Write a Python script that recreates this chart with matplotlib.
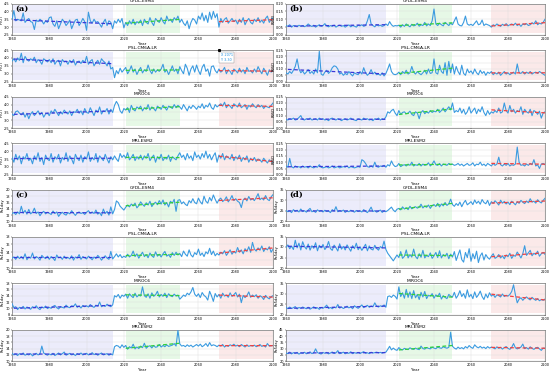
import numpy as np
import matplotlib
matplotlib.use("Agg")
import matplotlib.pyplot as plt

years = list(range(1960, 2101))
models = ["GFDL-ESM4", "IPSL-CM6A-LR", "MIROC6", "MRI-ESM2"]
group_labels = ["(a)", "(b)", "(c)", "(d)"]
index_names = ["PTOT", "R95D", "Rx1day", "Rx5day"]

# ---------------- (a) ----------------
a_gfdl = [3.5, 4.05, 3.4, 3.5, 3.45, 3.4, 3.9, 3.3, 3.45, 3.55,
          3.35, 3.3, 2.85, 3.45, 3.35, 3.5, 3.4, 3.2, 3.4, 3.3,
          3.6, 3.65, 3.2, 3.05, 3.4, 2.9, 3.2, 3.5, 3.35, 3.1,
          3.25, 3.45, 2.9, 3.2, 3.45, 3.5, 3.1, 3.3, 3.55, 3.35,
          2.8, 3.95, 3.4, 3.25, 3.5, 3.3, 3.35, 3.2, 3.0, 3.3,
          3.5, 3.1, 3.4, 3.3, 2.9, 3.4, 3.25, 3.5, 3.3, 3.55,
          2.95, 3.3, 3.1, 3.4, 3.2, 3.5, 3.15, 3.35, 3.25, 3.45,
          3.1, 3.5, 3.3, 3.2, 3.6, 3.3, 3.1, 3.55, 3.4, 3.3,
          3.6, 3.35, 3.2, 3.7, 3.4, 3.5, 3.3, 3.6, 3.45, 3.7,
          3.3, 3.5, 3.25, 3.1, 3.4, 2.9, 3.3, 3.55, 3.45, 3.2,
          3.7, 3.5, 3.9, 3.4, 3.75, 3.3, 3.95, 3.5, 4.0, 3.6,
          3.85, 3.0, 3.55, 3.3, 3.5, 3.6, 3.25, 3.4, 3.55, 3.35,
          3.45, 3.2, 3.5, 3.3, 3.6, 3.15, 3.4, 3.55, 3.3, 3.2,
          3.5, 3.35, 3.6, 3.3, 3.45, 3.25, 3.55, 3.7, 3.3, 3.5,
          3.6]
a_ipsl = [3.8, 3.95, 3.75, 4.0, 3.85, 4.3, 3.7, 4.1, 3.9, 3.8,
          3.95, 3.85, 4.05, 3.7, 3.9, 3.8, 3.6, 3.95, 3.85, 3.75,
          3.9, 3.7, 3.95, 3.6, 3.8, 3.85, 3.5, 3.9, 3.75, 3.8,
          3.6, 3.85, 3.7, 3.9, 3.55, 3.75, 3.8, 3.65, 3.85, 3.7,
          4.1, 3.6, 3.8, 3.9, 3.5, 3.7, 3.85, 3.6, 3.95, 3.8,
          3.7, 3.5, 3.8, 3.3, 3.4, 2.75, 3.2, 3.0, 3.35, 3.1,
          3.25, 3.4, 3.0, 3.2, 3.5, 3.1, 3.3, 2.95, 3.2, 3.4,
          3.05, 3.25, 3.15, 3.55, 3.2, 3.0, 3.3, 3.1, 3.25, 3.15,
          3.3, 3.6, 3.1, 3.25, 2.95, 3.2, 3.5, 3.15, 3.3, 3.0,
          3.45, 3.2, 3.0, 3.6, 3.35, 2.9, 3.3, 3.5, 3.1, 3.55,
          3.2, 2.95, 3.4, 3.6, 3.15, 3.3, 2.85, 3.45, 3.5, 3.2,
          3.05, 3.3, 3.1, 3.2, 3.4, 3.0, 3.25, 3.15, 2.95, 3.3,
          3.2, 3.05, 3.35, 3.1, 3.25, 3.0, 3.4, 3.15, 3.2, 3.05,
          3.3, 3.1, 3.45, 3.2, 3.0, 3.35, 3.15, 2.9, 3.25, 3.1,
          3.2]
a_miroc = [3.4, 3.3, 3.55, 3.6, 3.45, 3.35, 3.5, 3.2, 3.45, 3.1,
           3.4, 3.55, 3.3, 3.45, 3.6, 3.35, 3.5, 3.2, 3.4, 3.45,
           3.3, 3.6, 3.45, 3.7, 3.5, 3.3, 3.55, 3.4, 3.65, 3.5,
           3.4, 3.6, 3.3, 3.55, 3.5, 3.7, 3.45, 3.6, 3.35, 3.75,
           3.5, 3.45, 3.8, 3.55, 3.3, 3.65, 3.5, 3.85, 3.4, 3.6,
           3.55, 3.75, 3.4, 3.7, 3.5, 3.95, 4.2, 4.0, 3.6, 3.45,
           3.75, 3.65, 3.8, 3.5, 3.95, 3.7, 3.6, 3.85, 3.75, 3.9,
           3.6, 3.8, 3.7, 4.0, 3.65, 3.85, 3.75, 3.6, 3.9, 3.8,
           3.7, 3.95, 3.8, 3.65, 3.9, 3.85, 3.75, 4.0, 3.8, 3.95,
           3.85, 3.7, 4.0, 3.8, 3.6, 3.9, 3.75, 3.95, 3.85, 3.7,
           3.9, 3.8, 4.05, 3.75, 3.95, 3.85, 4.1, 3.8, 3.7, 4.0,
           3.85, 3.95, 4.05, 3.9, 4.15, 3.8, 4.0, 3.9, 3.75, 4.05,
           3.95, 3.85, 4.1, 3.8, 3.9, 4.0, 3.7, 3.95, 3.85, 4.05,
           3.9, 3.8, 4.0, 3.85, 3.95, 3.75, 3.9, 3.85, 3.8, 3.95,
           4.1]
a_mri = [3.6, 3.3, 3.8, 3.45, 3.7, 3.2, 3.65, 3.5, 3.85, 3.4,
         3.55, 3.2, 3.7, 3.45, 3.9, 3.35, 3.6, 3.15, 3.75, 3.5,
         3.4, 3.85, 3.3, 3.65, 3.5, 3.8, 3.25, 3.6, 3.45, 3.9,
         3.35, 3.7, 3.5, 3.2, 3.8, 3.55, 3.4, 3.75, 3.3, 3.65,
         3.5, 3.95, 3.35, 3.6, 3.45, 3.85, 3.3, 3.7, 3.55, 3.4,
         3.8, 3.5, 3.25, 3.65, 3.45, 3.7, 3.5, 3.35, 3.85, 3.6,
         3.75, 3.55, 3.9, 3.45, 3.6, 3.8, 3.4, 3.65, 3.5, 3.75,
         3.45, 3.7, 3.55, 3.85, 3.4, 3.6, 3.75, 3.3, 3.65, 3.5,
         3.8, 3.4, 3.6, 3.5, 3.75, 3.35, 3.65, 3.55, 3.45, 3.7,
         3.9, 3.6, 3.75, 3.45, 3.85, 3.55, 3.7, 3.4, 3.95, 3.6,
         3.75, 3.5, 3.85, 3.6, 4.0, 3.55, 3.8, 3.45, 3.7, 3.9,
         3.3, 3.75, 3.55, 3.85, 3.45, 3.7, 3.6, 3.5, 3.8, 3.4,
         3.65, 3.5, 3.75, 3.35, 3.6, 3.45, 3.7, 3.3, 3.55, 3.4,
         3.6, 3.35, 3.5, 3.45, 3.3, 3.55, 3.4, 3.25, 3.45, 3.35,
         3.3]

# ---------------- (b) ----------------
b_gfdl = [0.06, 0.055, 0.065, 0.05, 0.06, 0.058, 0.052, 0.062, 0.056, 0.06,
          0.053, 0.058, 0.07, 0.06, 0.054, 0.062, 0.05, 0.058, 0.065, 0.055,
          0.06, 0.072, 0.058, 0.052, 0.06, 0.055, 0.063, 0.05, 0.058, 0.062,
          0.055, 0.06, 0.05, 0.058, 0.064, 0.052, 0.06, 0.056, 0.05, 0.062,
          0.058, 0.065, 0.055, 0.06, 0.09, 0.13, 0.07, 0.06, 0.052, 0.065,
          0.058, 0.062, 0.055, 0.06, 0.07, 0.06, 0.085, 0.065, 0.055, 0.06,
          0.058, 0.062, 0.05, 0.065, 0.055, 0.07, 0.06, 0.052, 0.068, 0.058,
          0.062, 0.075, 0.056, 0.065, 0.06, 0.08, 0.058, 0.07, 0.06, 0.09,
          0.165, 0.07, 0.06, 0.075, 0.065, 0.058, 0.08, 0.07, 0.06, 0.075,
          0.065, 0.09, 0.115, 0.07, 0.06, 0.058, 0.08, 0.12, 0.07, 0.062,
          0.068, 0.06, 0.075, 0.09, 0.065, 0.07, 0.095, 0.06, 0.07, 0.065,
          0.06, 0.05, 0.065, 0.058, 0.07, 0.062, 0.055, 0.068, 0.06, 0.072,
          0.058, 0.065, 0.07, 0.062, 0.075, 0.06, 0.068, 0.055, 0.07, 0.065,
          0.072, 0.06, 0.065, 0.078, 0.07, 0.09, 0.065, 0.075, 0.07, 0.08,
          0.1]
b_ipsl = [0.07, 0.06, 0.08, 0.065, 0.09, 0.12, 0.18, 0.1, 0.07, 0.085,
          0.06, 0.075, 0.095, 0.065, 0.08, 0.06, 0.1, 0.07, 0.24, 0.06,
          0.05, 0.075, 0.09, 0.065, 0.08, 0.11, 0.125, 0.12, 0.1, 0.06,
          0.07, 0.05, 0.065, 0.055, 0.08, 0.06, 0.045, 0.07, 0.06, 0.055,
          0.08, 0.06, 0.11, 0.07, 0.05, 0.065, 0.095, 0.06, 0.075, 0.055,
          0.06, 0.05, 0.07, 0.045, 0.065, 0.1, 0.14, 0.08, 0.06, 0.055,
          0.06, 0.075, 0.055, 0.08, 0.065, 0.09, 0.06, 0.07, 0.12, 0.075,
          0.06, 0.08, 0.065, 0.055, 0.07, 0.09, 0.06, 0.1, 0.065, 0.07,
          0.18, 0.07, 0.06, 0.13, 0.08, 0.065, 0.15, 0.05, 0.16, 0.07,
          0.14, 0.06, 0.12, 0.08, 0.055, 0.13, 0.065, 0.05, 0.1, 0.07,
          0.085, 0.06, 0.1, 0.07, 0.055, 0.09, 0.065, 0.08, 0.05, 0.075,
          0.065, 0.08, 0.055, 0.07, 0.06, 0.075, 0.05, 0.065, 0.08, 0.06,
          0.07, 0.055, 0.065, 0.075, 0.06, 0.14, 0.07, 0.065, 0.08, 0.06,
          0.075, 0.065, 0.08, 0.06, 0.07, 0.075, 0.065, 0.08, 0.07, 0.06,
          0.05]
b_miroc = [0.07, 0.065, 0.075, 0.07, 0.08, 0.065, 0.07, 0.085, 0.1, 0.07,
           0.065, 0.075, 0.07, 0.08, 0.065, 0.07, 0.075, 0.065, 0.08, 0.07,
           0.075, 0.065, 0.07, 0.06, 0.075, 0.08, 0.07, 0.065, 0.075, 0.07,
           0.06, 0.07, 0.075, 0.065, 0.07, 0.08, 0.07, 0.065, 0.06, 0.075,
           0.07, 0.065, 0.08, 0.07, 0.075, 0.065, 0.07, 0.06, 0.075, 0.07,
           0.08, 0.065, 0.075, 0.07, 0.09, 0.13, 0.12, 0.14, 0.15, 0.12,
           0.1, 0.14, 0.11, 0.125, 0.13, 0.115, 0.12, 0.135, 0.11, 0.1,
           0.13, 0.12, 0.075, 0.125, 0.14, 0.115, 0.13, 0.12, 0.14, 0.125,
           0.135, 0.13, 0.15, 0.125, 0.14, 0.16, 0.13, 0.15, 0.17, 0.145,
           0.2, 0.125, 0.14, 0.13, 0.16, 0.12, 0.15, 0.11, 0.13, 0.17,
           0.12, 0.14, 0.16, 0.115, 0.15, 0.13, 0.17, 0.125, 0.1, 0.14,
           0.11, 0.13, 0.12, 0.14, 0.125, 0.16, 0.12, 0.13, 0.2, 0.14,
           0.12, 0.18, 0.13, 0.15, 0.12, 0.14, 0.13, 0.17, 0.11, 0.15,
           0.13, 0.12, 0.15, 0.1, 0.14, 0.13, 0.11, 0.135, 0.08, 0.12,
           0.13]
b_mri = [0.07, 0.06, 0.13, 0.065, 0.055, 0.07, 0.06, 0.065, 0.055, 0.07,
         0.06, 0.065, 0.055, 0.07, 0.06, 0.055, 0.065, 0.06, 0.08, 0.06,
         0.055, 0.06, 0.065, 0.055, 0.06, 0.07, 0.055, 0.06, 0.065, 0.055,
         0.06, 0.065, 0.06, 0.07, 0.055, 0.065, 0.06, 0.055, 0.06, 0.065,
         0.06, 0.12, 0.11, 0.09, 0.065, 0.06, 0.07, 0.06, 0.1, 0.065,
         0.06, 0.07, 0.065, 0.075, 0.06, 0.08, 0.07, 0.11, 0.08, 0.065,
         0.07, 0.09, 0.065, 0.075, 0.08, 0.07, 0.085, 0.075, 0.1, 0.07,
         0.08, 0.075, 0.09, 0.07, 0.085, 0.075, 0.08, 0.095, 0.07, 0.085,
         0.11, 0.08, 0.075, 0.09, 0.07, 0.085, 0.08, 0.075, 0.09, 0.08,
         0.085, 0.075, 0.08, 0.09, 0.075, 0.085, 0.07, 0.08, 0.09, 0.075,
         0.08, 0.095, 0.07, 0.085, 0.08, 0.1, 0.075, 0.085, 0.07, 0.09,
         0.08, 0.07, 0.09, 0.075, 0.085, 0.14, 0.08, 0.07, 0.085, 0.075,
         0.09, 0.07, 0.08, 0.075, 0.085, 0.22, 0.1, 0.075, 0.08, 0.07,
         0.085, 0.075, 0.09, 0.08, 0.12, 0.07, 0.08, 0.05, 0.085, 0.09,
         0.08]

# ---------------- (c) ----------------
c_gfdl = [12.5, 12.8, 12.2, 13.0, 12.4, 14.8, 12.6, 13.5, 12.3, 13.8,
          12.4, 12.9, 14.2, 12.5, 13.0, 11.8, 12.7, 13.2, 12.4, 12.9,
          12.6, 12.2, 13.3, 12.5, 13.0, 11.6, 12.4, 12.9, 12.3, 12.0,
          12.8, 12.4, 13.4, 12.6, 11.9, 12.7, 13.0, 12.5, 12.8, 12.2,
          12.9, 13.4, 12.6, 13.0, 12.5, 13.6, 12.3, 12.8, 11.8, 13.9,
          12.5, 13.2, 12.0, 14.6, 12.4, 13.8, 16.5, 16.0, 14.8, 14.2,
          13.6, 14.5, 15.2, 14.6, 15.5, 14.9, 15.8, 14.3, 15.0, 16.2,
          15.4, 14.8, 15.9, 15.2, 16.4, 14.7, 15.6, 16.1, 15.3, 16.6,
          15.5, 16.8, 15.2, 16.0, 14.6, 16.4, 15.8, 17.0, 13.2, 16.7,
          16.9, 15.6, 16.2, 15.4, 15.0, 16.6, 15.9, 17.2, 16.0, 15.6,
          17.4, 16.2, 15.5, 18.0, 16.4, 15.8, 17.6, 16.5, 18.4, 17.0,
          15.8, 16.9, 17.4, 16.3, 16.8, 17.8, 16.2, 17.0, 18.2, 16.6,
          17.2, 16.4, 16.0, 14.4, 16.8, 17.4, 16.5, 17.9, 16.8, 17.2,
          16.6, 17.6, 18.8, 16.9, 17.4, 16.8, 18.2, 17.0, 16.6, 17.8,
          18.5]
c_ipsl = [12.5, 12.8, 12.2, 13.0, 12.4, 12.9, 12.3, 13.6, 12.1, 12.8,
          12.5, 13.8, 12.3, 12.9, 12.6, 12.0, 13.2, 12.7, 12.4, 13.0,
          12.2, 12.9, 12.5, 11.9, 13.3, 12.6, 12.8, 12.2, 13.0, 12.4,
          12.7, 12.3, 13.1, 12.0, 12.8, 12.5, 13.4, 12.2, 12.9, 12.6,
          12.3, 13.0, 12.6, 12.1, 12.8, 12.4, 13.2, 12.7, 12.0, 12.6,
          13.1, 12.5, 12.2, 14.2, 12.3, 12.9, 13.6, 12.8, 13.4, 12.6,
          13.0, 12.7, 13.5, 12.8, 13.2, 14.3, 12.9, 13.6, 12.5, 13.3,
          14.0, 12.9, 13.4, 12.6, 13.8, 13.1, 12.7, 14.1, 13.0, 13.5,
          12.8, 13.6, 14.2, 13.0, 13.4, 12.7, 13.9, 13.2, 14.0, 13.3,
          13.7, 12.9, 14.3, 13.5, 13.0, 14.6, 13.3, 12.8, 13.9, 13.4,
          14.8, 13.2, 13.8, 12.9, 14.1, 13.6, 15.0, 13.4, 14.3, 13.1,
          13.7, 13.3, 14.0, 13.6, 14.4, 13.2, 13.9, 14.6, 13.5, 14.2,
          13.8, 15.2, 14.0, 14.6, 13.6, 14.9, 14.2, 15.4, 14.0, 16.5,
          14.8, 14.3, 15.1, 14.5, 15.6, 14.2, 15.0, 14.6, 15.4, 14.0,
          14.8]
c_miroc = [11.5, 10.2, 10.5, 9.6, 10.3, 10.0, 10.6, 9.8, 10.4, 10.1,
           9.7, 10.5, 10.2, 10.8, 10.0, 9.6, 10.4, 10.1, 10.7, 9.9,
           10.3, 10.0, 10.6, 10.9, 10.2, 9.8, 10.5, 10.3, 10.1, 11.0,
           10.4, 10.2, 10.8, 10.6, 11.4, 10.3, 10.7, 10.1, 10.9, 10.5,
           10.8, 10.4, 11.2, 10.6, 10.3, 11.0, 10.7, 12.0, 10.5, 10.9,
           10.6, 11.3, 10.8, 10.5, 11.1, 14.0, 13.6, 14.4, 13.2, 14.2,
           13.8, 14.5, 13.2, 14.6, 13.9, 13.4, 14.8, 13.6, 14.2, 13.9,
           16.8, 14.0, 13.5, 14.6, 13.2, 14.9, 13.8, 14.3, 15.4, 13.6,
           14.4, 13.8, 14.8, 13.4, 14.6, 14.0, 13.7, 14.5, 13.9, 14.2,
           12.9, 13.5, 14.2, 13.8, 14.8, 14.3, 15.2, 16.6, 14.5, 13.8,
           14.6, 13.4, 15.0, 14.1, 13.6, 12.6, 15.4, 14.0, 12.2, 14.7,
           13.6, 14.4, 13.2, 14.8, 13.9, 14.2, 13.5, 14.9, 13.8, 14.3,
           15.0, 13.6, 14.5, 11.8, 14.1, 13.4, 14.0, 15.2, 13.5, 14.2,
           13.7, 14.3, 13.2, 14.0, 13.6, 12.8, 14.1, 13.4, 13.0, 13.7,
           14.0]
c_mri = [12.5, 12.0, 12.3, 11.8, 12.4, 12.1, 12.6, 11.9, 12.2, 12.0,
         12.4, 11.7, 12.1, 12.5, 12.0, 12.3, 14.8, 12.6, 12.2, 11.9,
         12.3, 12.0, 12.5, 11.8, 12.2, 12.6, 12.0, 12.4, 12.9, 11.9,
         12.2, 12.5, 12.0, 12.3, 11.8, 12.4, 12.1, 12.6, 12.0, 12.3,
         12.5, 12.0, 12.2, 12.7, 12.1, 12.4, 11.9, 12.3, 12.6, 12.0,
         12.2, 12.4, 11.9, 12.3, 12.0, 14.6, 15.0, 14.8, 14.2, 15.2,
         14.4, 15.0, 13.8, 14.6, 14.2, 15.4, 13.9, 14.5, 14.0, 14.8,
         14.3, 15.7, 14.1, 14.7, 14.9, 14.2, 15.0, 14.4, 14.6, 15.3,
         14.5, 15.0, 14.6, 15.2, 14.7, 14.9, 15.1, 15.6, 14.8, 19.8,
         15.5, 14.8, 15.0, 14.6, 15.2, 14.7, 15.1, 14.5, 14.9, 15.3,
         14.8, 15.4, 14.6, 15.0, 15.6, 14.7, 15.9, 14.9, 15.2, 15.0,
         14.6, 15.1, 14.8, 15.3, 14.5, 15.0, 14.7, 15.2, 14.9, 15.4,
         14.8, 15.1, 14.6, 15.3, 14.9, 14.5, 15.2, 14.7, 15.0, 14.8,
         15.1, 14.6, 14.9, 15.3, 14.7, 15.0, 14.5, 15.6, 14.8, 14.9,
         15.0]

# ---------------- (d) ----------------
d_gfdl = [25.2, 24.6, 25.0, 24.2, 25.6, 24.8, 25.3, 24.5, 25.9, 24.7,
          25.1, 24.4, 25.4, 26.2, 24.6, 25.0, 24.3, 25.5, 24.8, 25.2,
          24.5, 25.3, 24.7, 25.0, 24.2, 25.6, 24.9, 27.0, 24.6, 25.1,
          24.8, 25.4, 24.3, 25.0, 24.6, 25.3, 24.9, 24.4, 25.2, 24.7,
          25.0, 24.5, 25.6, 24.8, 24.2, 25.3, 26.8, 24.7, 25.1, 24.4,
          24.9, 25.4, 24.3, 25.0, 24.6, 25.2, 26.0, 26.8, 25.4, 24.6,
          25.8, 26.2, 25.5, 26.9, 25.9, 26.5, 25.6, 27.2, 26.0, 26.6,
          27.0, 26.3, 26.8, 28.2, 26.4, 27.3, 26.7, 27.8, 26.2, 27.5,
          28.0, 27.1, 28.6, 26.9, 28.3, 27.4, 29.0, 27.6, 28.4, 30.6,
          28.0, 27.2, 28.5, 27.6, 29.2, 27.0, 28.8, 30.0, 27.9, 28.6,
          29.4, 28.0, 30.2, 28.6, 29.6, 28.2, 30.4, 29.0, 28.4, 30.0,
          27.6, 29.4, 28.6, 29.8, 28.9, 27.8, 30.1, 28.7, 29.5, 28.3,
          29.2, 28.0, 29.6, 28.8, 27.9, 29.4, 28.6, 30.0, 29.1, 28.5,
          29.7, 28.9, 30.8, 29.2, 29.6, 28.7, 30.3, 29.4, 28.8, 30.0,
          31.0]
d_ipsl = [29.8, 31.0, 29.2, 30.4, 28.8, 33.2, 29.6, 31.8, 28.6, 32.5,
          30.2, 29.0, 31.4, 28.5, 30.6, 29.4, 32.0, 28.2, 30.8, 29.6,
          31.2, 28.8, 30.0, 32.6, 29.3, 28.4, 30.9, 29.7, 28.1, 31.5,
          29.0, 30.3, 28.6, 31.0, 29.5, 28.0, 30.6, 29.2, 31.8, 28.7,
          30.1, 28.4, 29.8, 31.3, 28.2, 30.5, 29.0, 28.6, 30.8, 29.3,
          28.5, 30.2, 29.6, 32.8, 28.8, 27.0, 25.8, 24.6, 23.4, 24.8,
          26.2, 25.0, 27.8, 24.6, 25.6, 28.6, 24.8, 26.4, 25.2, 29.0,
          25.5, 24.4, 26.8, 25.1, 28.4, 24.8, 26.0, 25.4, 27.2, 24.6,
          25.8, 27.4, 25.0, 28.2, 24.8, 26.4, 25.6, 27.0, 24.4, 26.6,
          25.2, 27.8, 23.6, 26.2, 28.6, 24.0, 22.8, 27.4, 25.0, 29.2,
          23.2, 26.8, 24.4, 28.0, 22.6, 25.8, 27.2, 23.8, 26.4, 25.0,
          24.2, 25.6, 26.8, 24.6, 25.2, 26.4, 24.8, 25.8, 24.4, 26.2,
          25.4, 27.0, 24.6, 26.0, 25.6, 27.6, 26.2, 24.8, 26.8, 30.6,
          26.0, 27.2, 28.4, 25.8, 27.0, 26.4, 28.0, 25.6, 26.8, 27.4,
          26.5]
d_miroc = [23.5, 22.8, 23.6, 22.9, 23.3, 23.8, 22.7, 23.4, 23.0, 23.6,
           23.2, 22.8, 23.5, 22.6, 23.1, 23.7, 22.9, 23.3, 22.5, 23.4,
           23.0, 23.6, 24.5, 22.9, 23.4, 22.8, 23.5, 23.2, 24.8, 23.1,
           23.6, 22.9, 23.4, 24.0, 23.2, 23.7, 22.8, 24.2, 23.5, 23.0,
           23.8, 24.6, 23.3, 23.9, 24.4, 23.5, 24.1, 23.7, 25.6, 24.0,
           23.6, 24.2, 23.8, 24.6, 23.5, 28.6, 28.9, 28.2, 29.3, 28.7,
           27.4, 33.2, 28.6, 30.4, 27.8, 32.0, 28.2, 30.8, 27.6, 31.4,
           28.0, 29.6, 27.2, 30.6, 28.4, 31.0, 27.6, 29.2, 28.8, 30.0,
           27.8, 29.4, 28.6, 30.2, 27.4, 29.0, 28.2, 27.6, 29.6, 28.8,
           28.4, 30.6, 27.8, 29.2, 31.4, 28.6, 30.0, 27.8, 31.8, 28.4,
           29.6, 27.6, 30.8, 28.2, 29.4, 31.2, 28.6, 27.2, 29.8, 28.0,
           30.4, 28.8, 29.6, 28.2, 29.4, 29.0, 28.4, 29.8, 28.6, 29.2,
           28.8, 29.6, 31.0, 34.2, 29.4, 25.6, 27.4, 28.0, 26.8, 27.8,
           28.4, 27.6, 27.0, 28.2, 27.4, 26.8, 27.6, 26.6, 27.2, 26.8,
           27.4]
d_mri = [26.5, 26.0, 27.2, 25.8, 26.8, 26.2, 27.0, 25.6, 26.6, 26.3,
         27.1, 25.9, 26.5, 27.4, 26.0, 26.7, 29.8, 26.8, 26.2, 25.7,
         26.9, 26.3, 27.0, 25.8, 26.5, 27.3, 26.1, 26.6, 28.4, 26.0,
         26.4, 27.2, 25.9, 26.7, 26.2, 27.5, 26.0, 26.8, 26.3, 27.0,
         26.1, 26.9, 27.6, 26.3, 26.7, 26.0, 27.1, 26.5, 26.8, 27.2,
         26.6, 27.0, 26.4, 26.9, 27.2, 29.4, 31.8, 29.0, 30.4, 29.2,
         28.6, 30.8, 29.4, 29.0, 30.2, 29.6, 29.2, 30.6, 29.8, 29.4,
         30.4, 29.6, 29.2, 32.0, 30.0, 29.6, 30.8, 30.2, 29.8, 31.0,
         30.4, 29.9, 31.2, 30.6, 30.2, 31.4, 30.8, 30.3, 31.0, 43.0,
         31.8, 30.4, 29.6, 31.2, 30.0, 30.8, 29.8, 31.6, 30.4, 32.4,
         31.0, 30.2, 33.0, 31.4, 30.6, 31.8, 30.4, 31.2, 30.0, 31.6,
         30.4, 31.2, 30.6, 29.8, 31.4, 30.2, 31.0, 29.6, 30.8, 31.6,
         30.2, 29.4, 31.0, 34.0, 30.6, 29.8, 30.4, 31.2, 33.6, 30.0,
         30.8, 29.6, 31.4, 30.2, 29.4, 30.6, 31.0, 29.8, 28.6, 30.4,
         30.2]

series = [[a_gfdl, a_ipsl, a_miroc, a_mri],
          [b_gfdl, b_ipsl, b_miroc, b_mri],
          [c_gfdl, c_ipsl, c_miroc, c_mri],
          [d_gfdl, d_ipsl, d_miroc, d_mri]]

ylims = [[(2.5, 4.5)] * 4,
         [(0, 0.2), (0, 0.25), (0, 0.25), (0, 0.25)],
         [(10, 20), (10, 18), (8, 18), (10, 20)],
         [(20, 35), (20, 35), (20, 35), (20, 45)]]
yticks = [[[2.5, 3, 3.5, 4, 4.5]] * 4,
          [[0, 0.05, 0.1, 0.15, 0.2], [0, 0.05, 0.1, 0.15, 0.2, 0.25],
           [0, 0.05, 0.1, 0.15, 0.2, 0.25], [0, 0.05, 0.1, 0.15, 0.2, 0.25]],
          [[10, 12, 14, 16, 18, 20], [10, 12, 14, 16, 18], [8, 10, 12, 14, 16, 18],
           [10, 12, 14, 16, 18, 20]],
          [[20, 25, 30, 35], [20, 25, 30, 35], [20, 25, 30, 35], [20, 25, 30, 35, 40, 45]]]

periods = [(1960, 2014), (2021, 2050), (2071, 2100)]
trend_periods = [(1961, 2014), (2021, 2050), (2071, 2100)]
shade_colors = ["#ececfb", "#e6f8e6", "#fbe9e9"]
trend_colors = ["#3838d8", "#2fcf3a", "#f04040"]
line_color = "#3b9be0"

W, H = 550, 372
fig = plt.figure(figsize=(W / 100, H / 100), dpi=100)

col_left = [12, 286]
col_width = [261, 259]
row_top0 = 3.5
row_pitch = 46.6
ax_h = 31.5

yrs = np.array(years)
for g in range(4):
    col = g % 2
    for m in range(4):
        row = (g // 2) * 4 + m
        top = row_top0 + row * row_pitch
        ax = fig.add_axes([col_left[col] / W, 1 - (top + ax_h) / H,
                           col_width[col] / W, ax_h / H])
        vals = np.array(series[g][m], dtype=float)
        lo, hi = ylims[g][m]
        for (s, e), c in zip(periods, shade_colors):
            ax.axvspan(s, e, ymin=0.06, ymax=0.95, color=c, lw=0, zorder=0)
        ax.plot(yrs, vals, color=line_color, lw=0.8, zorder=3)
        for (s, e), c in zip(trend_periods, trend_colors):
            msk = (yrs >= s) & (yrs <= e)
            p = np.polyfit(yrs[msk], vals[msk], 1)
            ax.plot(yrs[msk], np.polyval(p, yrs[msk]), color=c, lw=0.9,
                    ls=(0, (3, 2)), zorder=4)
        ax.set_xlim(1960, 2100)
        ax.set_ylim(lo, hi)
        ax.set_xticks(range(1960, 2101, 20))
        ax.set_yticks(yticks[g][m])
        ax.tick_params(labelsize=2.5, length=1, width=0.3, pad=0.6)
        ax.grid(True, color="#dcdcdc", lw=0.3)
        ax.set_axisbelow(True)
        for sp in ax.spines.values():
            sp.set_linewidth(0.4)
            sp.set_color("#555555")
        ax.set_title(models[m], fontsize=3.2, pad=1)
        ax.set_xlabel("Year", fontsize=2.8, labelpad=0.5)
        ax.set_ylabel(index_names[g], fontsize=2.6, labelpad=0.4)
        if m == 0:
            ax.text(0.012, 0.97, group_labels[g], transform=ax.transAxes,
                    fontsize=6, fontweight="bold", family="DejaVu Serif",
                    va="top", ha="left", zorder=6)
        if g == 0 and m == 1:
            ax.annotate("X 2071\nY %.2f" % vals[111], xy=(2071, hi),
                        xytext=(2072, hi - (hi - lo) * 0.1),
                        fontsize=2.4, color="#1f8fe0", va="top", ha="left",
                        bbox=dict(boxstyle="square,pad=0.4", fc="white",
                                  ec="#888888", lw=0.3), zorder=7)
            ax.plot([2071], [hi], "ks", ms=1.2, zorder=8, clip_on=False)

fig.savefig("out.png", dpi=100)
